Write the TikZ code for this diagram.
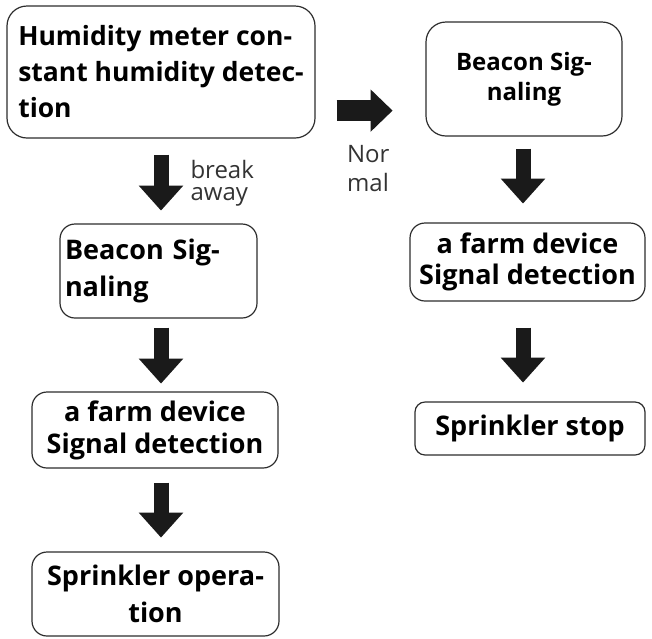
\documentclass[tikz,border=0pt]{standalone}
\usepackage{fontspec}
\setmainfont{Open Sans}[BoldFont={Open Sans Bold}]
\usetikzlibrary{arrows.meta, positioning, calc}
\definecolor{arrowblack}{RGB}{26,26,26}
\definecolor{boxline}{RGB}{45,45,45}

\tikzset{
  stepbox/.style={draw=boxline, line width=1.2pt, rounded corners=15pt, align=center, inner sep=4pt,
    font=\bfseries\fontsize{27}{32}\selectfont},
  bigarrow/.style={draw=arrowblack, line width=15pt, -{Triangle[width=43pt, length=25pt]}},
  sidearrow/.style={draw=arrowblack, line width=21pt, -{Triangle[width=41pt, length=22pt]}},
  sidetext/.style={font=\fontsize{24}{22}\selectfont, align=left, text=black!80, inner sep=0pt},
}

\begin{document}
\begin{tikzpicture}[x=1pt, y=1pt]
  \useasboundingbox (0,0) rectangle (652,-638);

  % left column: humidity out of range
  \node[stepbox, rounded corners=20pt, minimum width=308pt, minimum height=132pt,
    align=left, font=\bfseries\fontsize{26.5}{36}\selectfont] (hum) at (161,-72)
    {Humidity meter con-\\stant humidity detec-\\tion};
  \node[stepbox, minimum width=197pt, minimum height=94pt, text width=187pt, inner xsep=5pt,
    align=left, font=\bfseries\fontsize{27}{37}\selectfont] (bea1) at (158.5,-271)
    {Beacon Sig-\\naling};
  \node[stepbox, minimum width=246pt, minimum height=76pt] (farm1) at (155,-430)
    {a farm device\\Signal detection};
  \node[stepbox, minimum width=247pt, minimum height=84pt, font=\bfseries\fontsize{27}{37}\selectfont] (run1) at (155.5,-594)
    {Sprinkler opera-\\tion};

  % right column: humidity normal
  \node[stepbox, rounded corners=20pt, minimum width=196pt, minimum height=114pt,
    font=\bfseries\fontsize{24}{30}\selectfont] (bea2) at (524,-79)
    {Beacon Sig-\\naling};
  \node[stepbox, minimum width=235pt, minimum height=78pt, font=\bfseries\fontsize{27}{31}\selectfont] (farm2) at (527.5,-262)
    {a farm device\\Signal detection};
  \node[stepbox, rounded corners=10pt, minimum width=230pt, minimum height=53pt] (stop2) at (530,-428.5)
    {Sprinkler stop};

  % arrows
  \draw[bigarrow] ([yshift=-16pt]hum.south) -- ++(0,-56)
    node[sidetext, midway, anchor=west, xshift=22pt, yshift=-1pt] (brk) {break\\away};
  \draw[bigarrow] ($(bea1.south -| hum.south)+(0,-9)$) -- ++(0,-56);
  \draw[bigarrow] ($(farm1.south -| hum.south)+(0,-14)$) -- ++(0,-55);
  \draw[sidearrow] ($(hum.south east)+(21,28)$) -- ++(56,0)
    node[sidetext, at start, anchor=north west, yshift=-24pt, font=\fontsize{24}{29}\selectfont] (nrm) {Nor\\mal};
  \draw[bigarrow] ([xshift=-1pt, yshift=-12pt]bea2.south) -- ++(0,-55);
  \draw[bigarrow] ($(farm2.south -| bea2.south)+(-1,-26)$) -- ++(0,-55);
\end{tikzpicture}
\end{document}
